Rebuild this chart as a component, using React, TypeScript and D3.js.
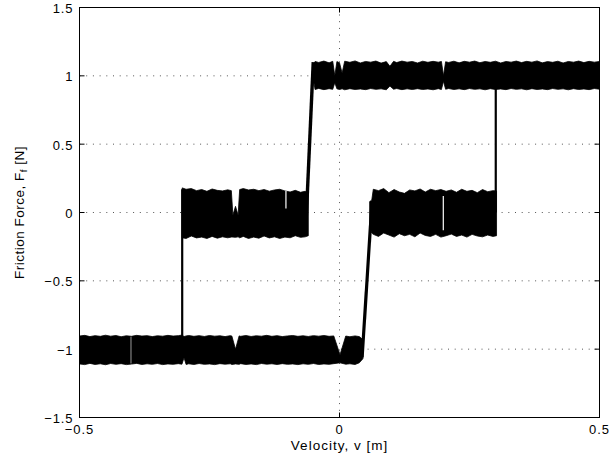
import React from "react";
import * as d3 from "d3";

// ---------- data ----------
const xTicks = [-0.5, 0, 0.5];
const xTickLabels = ["\u22120.5", "0", "0.5"];
const yTicks = [-1.5, -1, -0.5, 0, 0.5, 1, 1.5];
const yTickLabels = ["\u22121.5", "\u22121", "\u22120.5", "0", "0.5", "1", "1.5"];

// noisy bands: [velocity, upper envelope, lower envelope]
const lowerBand: [number, number, number][] = [
  [-0.5, -0.904, -1.108], [-0.49, -0.899, -1.113], [-0.48, -0.908, -1.104], [-0.47, -0.901, -1.112],
  [-0.46, -0.906, -1.107], [-0.45, -0.898, -1.114], [-0.44, -0.905, -1.105], [-0.43, -0.9, -1.111],
  [-0.42, -0.909, -1.106], [-0.41, -0.902, -1.113], [-0.4, -0.906, -1.109], [-0.39, -0.899, -1.104],
  [-0.38, -0.904, -1.112], [-0.37, -0.901, -1.107], [-0.36, -0.908, -1.111], [-0.35, -0.902, -1.105],
  [-0.34, -0.905, -1.113], [-0.33, -0.899, -1.108], [-0.32, -0.904, -1.111], [-0.31, -0.901, -1.106],
  [-0.303, -0.897, -1.11], [-0.299, -0.908, -1.062], [-0.295, -0.903, -1.112], [-0.29, -0.9, -1.107],
  [-0.28, -0.906, -1.112], [-0.27, -0.901, -1.105], [-0.26, -0.907, -1.111], [-0.25, -0.9, -1.108],
  [-0.24, -0.905, -1.113], [-0.23, -0.902, -1.106], [-0.22, -0.908, -1.11], [-0.21, -0.901, -1.107],
  [-0.207, -0.904, -1.112], [-0.2, -1.0, -1.108], [-0.193, -0.903, -1.111], [-0.19, -0.906, -1.106],
  [-0.18, -0.9, -1.112], [-0.17, -0.907, -1.108], [-0.16, -0.902, -1.113], [-0.15, -0.905, -1.105],
  [-0.14, -0.899, -1.11], [-0.13, -0.906, -1.107], [-0.12, -0.901, -1.112], [-0.11, -0.908, -1.106],
  [-0.1, -0.903, -1.111], [-0.09, -0.9, -1.108], [-0.08, -0.906, -1.113], [-0.07, -0.902, -1.107],
  [-0.06, -0.907, -1.111], [-0.05, -0.901, -1.105], [-0.04, -0.905, -1.112], [-0.03, -0.9, -1.108],
  [-0.02, -0.906, -1.111], [-0.011, -0.903, -1.106], [0.001, -1.04, -1.1], [0.012, -0.904, -1.11],
  [0.02, -0.909, -1.107], [0.03, -0.903, -1.112], [0.038, -0.908, -1.1], [0.045, -0.93, -1.07],
];

const middleLeftBand: [number, number, number][] = [
  [-0.3025, 0.18, -0.185], [-0.295, 0.17, -0.19], [-0.285, 0.175, -0.172], [-0.275, 0.16, -0.186],
  [-0.265, 0.168, -0.18], [-0.255, 0.155, -0.19], [-0.245, 0.172, -0.175], [-0.235, 0.162, -0.188],
  [-0.225, 0.158, -0.178], [-0.215, 0.166, -0.185], [-0.208, 0.16, -0.18], [-0.205, -0.02, -0.18],
  [-0.2, 0.045, -0.182], [-0.195, -0.02, -0.178], [-0.192, 0.168, -0.185], [-0.185, 0.175, -0.175],
  [-0.175, 0.165, -0.19], [-0.165, 0.17, -0.18], [-0.155, 0.16, -0.188], [-0.145, 0.168, -0.172],
  [-0.135, 0.156, -0.186], [-0.125, 0.165, -0.178], [-0.115, 0.17, -0.19], [-0.105, 0.158, -0.18],
  [-0.095, 0.15, -0.185], [-0.085, 0.162, -0.17], [-0.075, 0.148, -0.182], [-0.066, 0.155, -0.178],
  [-0.06, 0.14, -0.17],
];

const middleRightBand: [number, number, number][] = [
  [0.058, 0.08, -0.1], [0.062, 0.09, -0.15], [0.065, 0.17, -0.16], [0.075, 0.16, -0.175],
  [0.085, 0.175, -0.15], [0.095, 0.145, -0.165], [0.105, 0.168, -0.18], [0.115, 0.15, -0.155],
  [0.125, 0.14, -0.17], [0.135, 0.165, -0.16], [0.145, 0.158, -0.178], [0.155, 0.172, -0.15],
  [0.165, 0.15, -0.168], [0.175, 0.17, -0.175], [0.185, 0.16, -0.16], [0.195, 0.168, -0.18],
  [0.205, 0.155, -0.17], [0.215, 0.165, -0.158], [0.225, 0.148, -0.175], [0.235, 0.17, -0.165],
  [0.245, 0.155, -0.18], [0.255, 0.162, -0.16], [0.265, 0.145, -0.172], [0.275, 0.168, -0.178],
  [0.285, 0.152, -0.165], [0.295, 0.16, -0.175], [0.302, 0.158, -0.17],
];

const upperBand: [number, number, number][] = [
  [-0.0505, 1.085, 0.98], [-0.047, 1.105, 0.9], [-0.04, 1.098, 0.908], [-0.03, 1.108, 0.899],
  [-0.02, 1.095, 0.906], [-0.013, 1.106, 0.901], [-0.009, 1.0, 0.95], [-0.005, 1.104, 0.905],
  [0.0, 1.096, 0.9], [0.005, 1.02, 0.905], [0.01, 1.107, 0.898], [0.02, 1.099, 0.906],
  [0.03, 1.109, 0.9], [0.04, 1.094, 0.904], [0.05, 1.105, 0.899], [0.06, 1.1, 0.907],
  [0.07, 1.108, 0.901], [0.08, 1.093, 0.905], [0.09, 1.104, 0.898], [0.097, 1.07, 0.925],
  [0.104, 1.106, 0.902], [0.11, 1.097, 0.907], [0.12, 1.108, 0.899], [0.13, 1.1, 0.905],
  [0.14, 1.105, 0.9], [0.15, 1.094, 0.906], [0.16, 1.107, 0.9], [0.17, 1.099, 0.904],
  [0.18, 1.106, 0.898], [0.19, 1.1, 0.906], [0.196, 1.105, 0.9], [0.2, 1.0, 0.96],
  [0.204, 1.103, 0.902], [0.21, 1.098, 0.907], [0.22, 1.107, 0.9], [0.23, 1.095, 0.905],
  [0.24, 1.106, 0.899], [0.25, 1.1, 0.907], [0.26, 1.108, 0.901], [0.27, 1.096, 0.905],
  [0.28, 1.105, 0.898], [0.29, 1.099, 0.906], [0.3, 1.107, 0.9], [0.31, 1.094, 0.904],
  [0.32, 1.105, 0.899], [0.33, 1.1, 0.907], [0.34, 1.108, 0.901], [0.35, 1.097, 0.905],
  [0.36, 1.106, 0.898], [0.37, 1.1, 0.906], [0.38, 1.109, 0.9], [0.39, 1.095, 0.904],
  [0.4, 1.104, 0.899], [0.41, 1.099, 0.907], [0.42, 1.107, 0.901], [0.43, 1.094, 0.905],
  [0.44, 1.105, 0.898], [0.45, 1.1, 0.906], [0.46, 1.108, 0.9], [0.47, 1.097, 0.904],
  [0.48, 1.106, 0.899], [0.49, 1.1, 0.907], [0.5, 1.105, 0.902],
];

// transitions between the friction levels: [velocity, force]
const jumpLeft: [number, number][] = [[-0.3025, -1.0], [-0.3025, 0.17]];
const jumpRight: [number, number][] = [[0.3005, 0.0], [0.3005, 1.0]];
const rampLeft: [number, number][] = [[-0.0655, -0.17], [-0.0505, 1.1]];
const rampRight: [number, number][] = [[0.0435, -1.06], [0.0625, 0.08]];

// thin openings inside the noisy bands: [velocity, from, to, opacity]
const gaps: [number, number, number, number][] = [
  [-0.401, -0.91, -1.105, 0.5],
  [-0.103, 0.16, 0.03, 1],
  [0.1996, 0.12, -0.13, 1],
];

// ---------- layout ----------
const W = 612;
const H = 470;
const L = 79.5;
const R = 599.5;
const T = 7.5;
const B = 417.5;
const FONT = "'Liberation Sans', Arial, Helvetica, sans-serif";

export default function App() {
  const x = d3.scaleLinear().domain([-0.5, 0.5]).range([L, R]);
  const y = d3.scaleLinear().domain([-1.5, 1.5]).range([B, T]);

  const area = d3
    .area<[number, number, number]>()
    .x((d) => x(d[0]))
    .y0((d) => y(d[2]))
    .y1((d) => y(d[1]));
  const line = d3
    .line<[number, number]>()
    .x((d) => x(d[0]))
    .y((d) => y(d[1]));

  const bands = [lowerBand, middleLeftBand, middleRightBand, upperBand];
  const tickLen = 5;

  return (
    <svg
      width={W}
      height={H}
      style={{ position: "fixed", left: 0, top: 0, background: "#fff" }}
      fontFamily={FONT}
    >
      <rect x={0} y={0} width={W} height={H} fill="#fff" />
      <defs>
        <clipPath id="plotClip">
          <rect x={L} y={T} width={R - L} height={B - T} />
        </clipPath>
      </defs>

      {/* grid */}
      <g stroke="#555" strokeWidth={1} strokeDasharray="1 5.7">
        {xTicks
          .filter((t) => t > -0.5 && t < 0.5)
          .map((t) => (
            <line key={"gx" + t} x1={x(t)} x2={x(t)} y1={B} y2={T} />
          ))}
        {yTicks
          .filter((t) => t > -1.5 && t < 1.5)
          .map((t) => (
            <line key={"gy" + t} x1={L} x2={R} y1={y(t)} y2={y(t)} />
          ))}
      </g>

      {/* data */}
      <g clipPath="url(#plotClip)">
        {bands.map((b, i) => (
          <path key={"band" + i} d={area(b) || ""} fill="#000" stroke="#000" strokeWidth={0.8} />
        ))}
        {gaps.map((g, i) => (
          <line
            key={"gap" + i}
            x1={x(g[0])}
            x2={x(g[0])}
            y1={y(g[1])}
            y2={y(g[2])}
            stroke="#fff"
            strokeWidth={1.2}
            opacity={g[3]}
          />
        ))}
        <path d={line(jumpLeft) || ""} stroke="#000" strokeWidth={2.2} fill="none" />
        <path d={line(jumpRight) || ""} stroke="#000" strokeWidth={2.2} fill="none" />
        <path d={line(rampLeft) || ""} stroke="#000" strokeWidth={3.4} fill="none" />
        <path d={line(rampRight) || ""} stroke="#000" strokeWidth={3.2} fill="none" />
      </g>

      {/* axes box */}
      <rect x={L} y={T} width={R - L} height={B - T} fill="none" stroke="#000" strokeWidth={1} />
      <g stroke="#000" strokeWidth={1}>
        {xTicks.map((t) => (
          <g key={"tx" + t}>
            <line x1={x(t)} x2={x(t)} y1={B} y2={B - tickLen} />
            <line x1={x(t)} x2={x(t)} y1={T} y2={T + tickLen} />
          </g>
        ))}
        {yTicks.map((t) => (
          <g key={"ty" + t}>
            <line x1={L} x2={L + tickLen} y1={y(t)} y2={y(t)} />
            <line x1={R} x2={R - tickLen} y1={y(t)} y2={y(t)} />
          </g>
        ))}
      </g>

      {/* tick labels */}
      <g fontSize={13} fill="#000" letterSpacing={0.9}>
        {xTicks.map((t, i) => (
          <text key={"lx" + t} x={x(t)} y={433.5} textAnchor="middle">
            {xTickLabels[i]}
          </text>
        ))}
        {yTicks.map((t, i) => (
          <text key={"ly" + t} x={73.5} y={y(t) + 5.5} textAnchor="end">
            {yTickLabels[i]}
          </text>
        ))}
      </g>

      {/* axis labels */}
      <text
        x={(L + R) / 2}
        y={450}
        textAnchor="middle"
        fontSize={13.5}
        letterSpacing={1}
        fill="#000"
      >
        Velocity, v [m]
      </text>
      <text
        transform={`translate(23.5,${(T + B) / 2}) rotate(-90)`}
        textAnchor="middle"
        fontSize={13.5}
        letterSpacing={0.5}
        fill="#000"
      >
        Friction Force, F
        <tspan fontSize={9.5} dy={3}>f</tspan>
        <tspan dy={-3}> [N]</tspan>
      </text>
    </svg>
  );
}
